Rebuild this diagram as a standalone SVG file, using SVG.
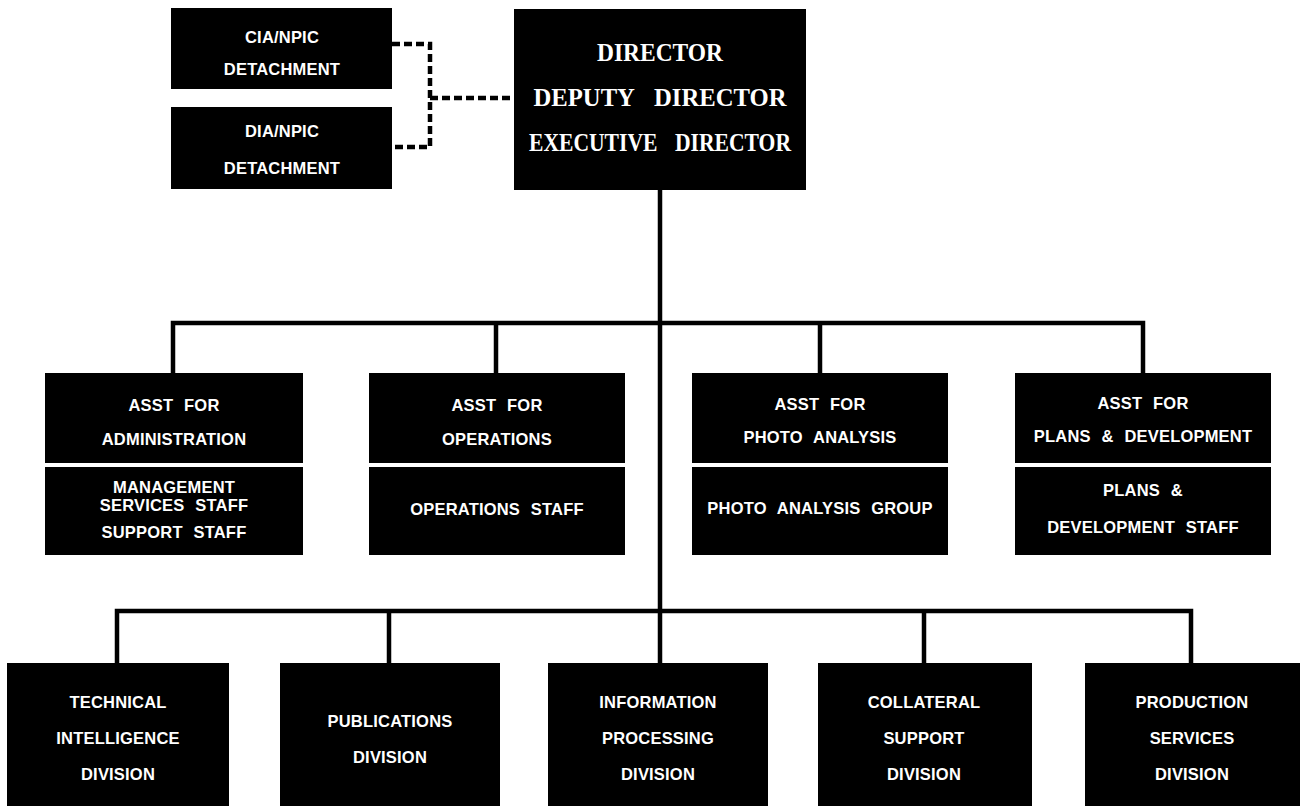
<svg xmlns="http://www.w3.org/2000/svg" width="1307" height="806" viewBox="0 0 1307 806">
<style>
.box{fill:#000}
.t{font-family:"Liberation Sans",Arial,sans-serif;font-size:16.5px;font-weight:bold;fill:#fff;text-anchor:middle;word-spacing:6px;letter-spacing:0.2px}
.s{font-family:"Liberation Serif","Times New Roman",serif;font-size:25px;font-weight:bold;fill:#fff;text-anchor:middle;word-spacing:14px}
.ln{stroke:#000;stroke-width:4.5;fill:none}
.dash{stroke:#000;stroke-width:4.5;fill:none;stroke-dasharray:8 4}
</style>
<rect width="1307" height="806" fill="#fff"/>
<g id="connectors">
<path class="dash" d="M392 44 H430 V147 H392 M430 98 H514"/>
<path class="ln" d="M660 189 V663"/>
<path class="ln" d="M173 373 V323 H1143 V373 M496 323 V373 M820 323 V373"/>
<path class="ln" d="M117 663 V611 H1191 V663 M389 611 V663 M924 611 V663"/>
</g>
<g id="cia">
<rect class="box" x="171" y="8" width="221" height="81"/>
<text class="t" x="282" y="43">CIA/NPIC</text>
<text class="t" x="282" y="75">DETACHMENT</text>
</g>
<g id="dia">
<rect class="box" x="171" y="107" width="221" height="82"/>
<text class="t" x="282" y="137">DIA/NPIC</text>
<text class="t" x="282" y="174">DETACHMENT</text>
</g>
<g id="director">
<rect class="box" x="514" y="9" width="292" height="181"/>
<text class="s" x="660" y="61" textLength="126" lengthAdjust="spacingAndGlyphs">DIRECTOR</text>
<text class="s" x="660" y="106" textLength="253" lengthAdjust="spacingAndGlyphs">DEPUTY DIRECTOR</text>
<text class="s" x="660" y="151" textLength="262" lengthAdjust="spacingAndGlyphs">EXECUTIVE DIRECTOR</text>
</g>
<g id="admin">
<rect class="box" x="45" y="373" width="258" height="90"/>
<rect class="box" x="45" y="467" width="258" height="88"/>
<text class="t" x="174" y="411">ASST FOR</text>
<text class="t" x="174" y="445">ADMINISTRATION</text>
<text class="t" x="174" y="493">MANAGEMENT</text>
<text class="t" x="174" y="511">SERVICES STAFF</text>
<text class="t" x="174" y="538">SUPPORT STAFF</text>
</g>
<g id="ops">
<rect class="box" x="369" y="373" width="256" height="90"/>
<rect class="box" x="369" y="467" width="256" height="88"/>
<text class="t" x="497" y="411">ASST FOR</text>
<text class="t" x="497" y="445">OPERATIONS</text>
<text class="t" x="497" y="515">OPERATIONS STAFF</text>
</g>
<g id="photo">
<rect class="box" x="692" y="373" width="256" height="90"/>
<rect class="box" x="692" y="467" width="256" height="88"/>
<text class="t" x="820" y="410">ASST FOR</text>
<text class="t" x="820" y="443">PHOTO ANALYSIS</text>
<text class="t" x="820" y="514">PHOTO ANALYSIS GROUP</text>
</g>
<g id="plans">
<rect class="box" x="1015" y="373" width="256" height="90"/>
<rect class="box" x="1015" y="467" width="256" height="88"/>
<text class="t" x="1143" y="409">ASST FOR</text>
<text class="t" x="1143" y="442">PLANS &amp; DEVELOPMENT</text>
<text class="t" x="1143" y="496">PLANS &amp;</text>
<text class="t" x="1143" y="533">DEVELOPMENT STAFF</text>
</g>
<g id="tid">
<rect class="box" x="7" y="663" width="222" height="143"/>
<text class="t" x="118" y="708">TECHNICAL</text>
<text class="t" x="118" y="744">INTELLIGENCE</text>
<text class="t" x="118" y="780">DIVISION</text>
</g>
<g id="pub">
<rect class="box" x="280" y="663" width="220" height="143"/>
<text class="t" x="390" y="727">PUBLICATIONS</text>
<text class="t" x="390" y="763">DIVISION</text>
</g>
<g id="ipd">
<rect class="box" x="548" y="663" width="220" height="143"/>
<text class="t" x="658" y="708">INFORMATION</text>
<text class="t" x="658" y="744">PROCESSING</text>
<text class="t" x="658" y="780">DIVISION</text>
</g>
<g id="csd">
<rect class="box" x="818" y="663" width="214" height="143"/>
<text class="t" x="924" y="708">COLLATERAL</text>
<text class="t" x="924" y="744">SUPPORT</text>
<text class="t" x="924" y="780">DIVISION</text>
</g>
<g id="psd">
<rect class="box" x="1085" y="663" width="215" height="143"/>
<text class="t" x="1192" y="708">PRODUCTION</text>
<text class="t" x="1192" y="744">SERVICES</text>
<text class="t" x="1192" y="780">DIVISION</text>
</g>
</svg>
